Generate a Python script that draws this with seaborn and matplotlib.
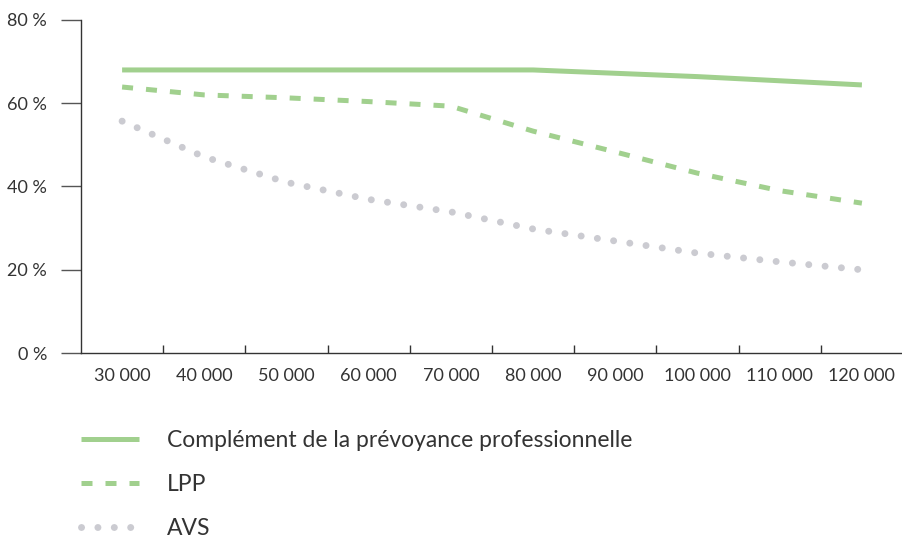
import matplotlib
matplotlib.use("Agg")
import matplotlib.pyplot as plt
import seaborn as sns
import pandas as pd
import numpy as np
from matplotlib.ticker import FixedLocator

# données (taux de remplacement en %)
revenus = ["30 000", "40 000", "50 000", "60 000", "70 000",
           "80 000", "90 000", "100 000", "110 000", "120 000"]
complement = [68.0, 68.0, 68.0, 68.0, 68.0, 68.0, 67.2, 66.4, 65.4, 64.4]
lpp = [63.9, 62.0, 61.3, 60.4, 59.3, 53.3, 48.3, 43.2, 39.0, 36.0]
avs = [55.7, 47.1, 41.0, 36.9, 33.9, 29.8, 26.9, 24.0, 21.9, 20.0]
y_ticks = [0, 20, 40, 60, 80]

labels = ["Complément de la prévoyance professionnelle", "LPP", "AVS"]

green = "#a1d08e"
grey = "#cbcbd1"
text_col = "#333333"

sns.set_theme(style="white")
plt.rcParams["font.family"] = ["Lato", "DejaVu Sans"]
plt.rcParams["text.color"] = text_col

x = np.arange(len(revenus))
df = pd.DataFrame({"x": x, "complement": complement, "lpp": lpp, "avs": avs})

fig = plt.figure(figsize=(9.03, 5.37), dpi=100)
ax = fig.add_axes([81 / 903, (537 - 353) / 537, 822 / 903, 333 / 537])

sns.lineplot(data=df, x="x", y="complement", ax=ax, color=green, lw=3.6,
             solid_capstyle="butt", label=labels[0])
sns.lineplot(data=df, x="x", y="lpp", ax=ax, color=green, lw=3.6,
             linestyle=(0, (2.2, 2.6)), dash_capstyle="butt", label=labels[1])
sns.lineplot(data=df, x="x", y="avs", ax=ax, color=grey, lw=5,
             linestyle=(0, (0.01, 2.35)), dash_capstyle="round", label=labels[2])

ax.set_xlim(-0.5, len(revenus) - 0.5)
ax.set_ylim(0, 80)

# étiquettes au centre, petits traits entre les catégories
ax.set_xticks(x)
ax.set_xticklabels(revenus)
ax.xaxis.set_minor_locator(FixedLocator(np.arange(0.5, len(revenus) - 0.5, 1)))
ax.tick_params(axis="x", which="major", length=0, pad=11, labelsize=13,
               labelcolor=text_col)
ax.tick_params(axis="x", which="minor", bottom=True, direction="in",
               length=6, width=1, color=text_col)

ax.set_yticks(y_ticks)
ax.set_yticklabels([f"{v} %" for v in y_ticks])
ax.tick_params(axis="y", left=True, direction="out", length=14.5, width=1,
               color="#555555", pad=10, labelsize=13, labelcolor=text_col)

ax.set_xlabel("")
ax.set_ylabel("")
sns.despine(ax=ax)
for side in ["left", "bottom"]:
    ax.spines[side].set_color(text_col)
    ax.spines[side].set_linewidth(1)

ax.legend(loc="upper left", bbox_to_anchor=(81 / 903, 1 - 430 / 537),
          bbox_transform=fig.transFigure, frameon=False, fontsize=16.5,
          handlelength=2.55, handletextpad=1.2, labelspacing=1.0,
          borderpad=0, borderaxespad=0)

fig.savefig("out.png", dpi=100)
